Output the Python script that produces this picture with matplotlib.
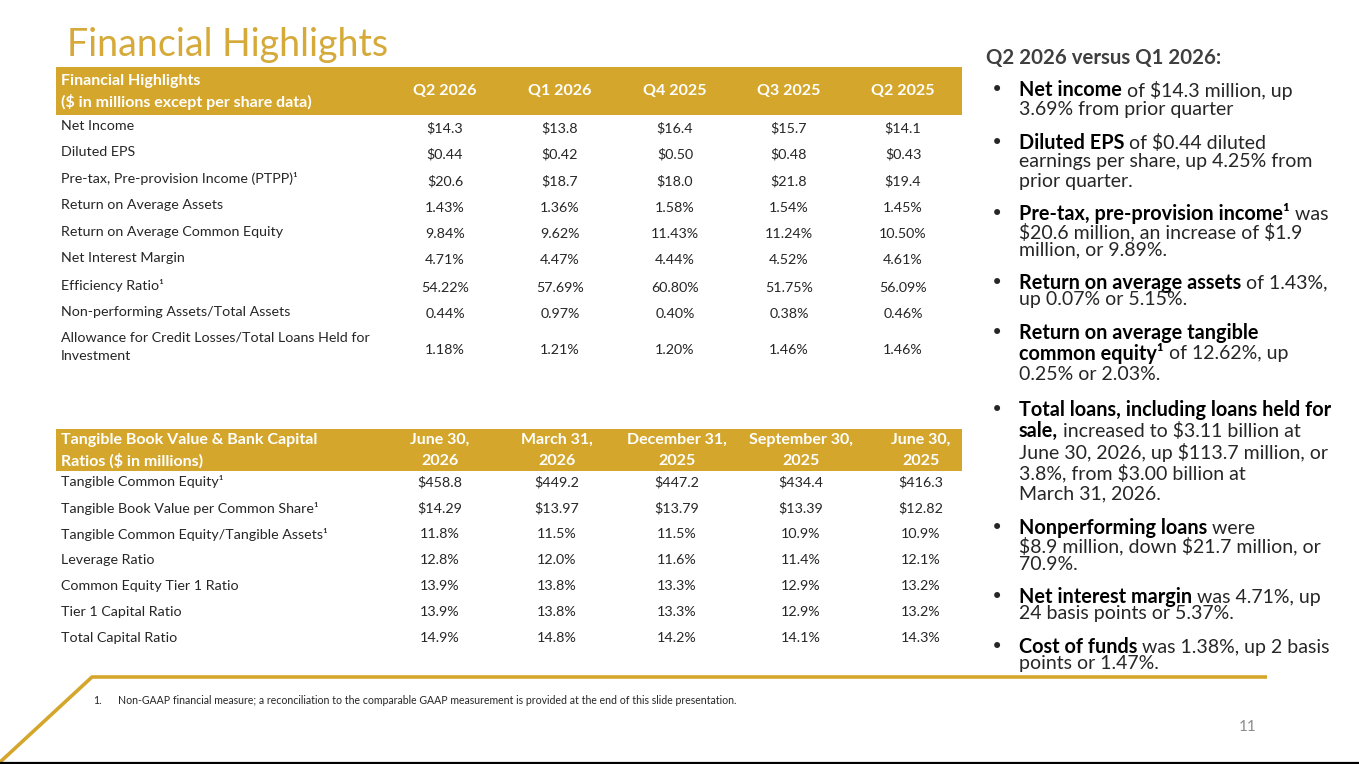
import matplotlib
matplotlib.use("Agg")
import matplotlib.pyplot as plt
from matplotlib.patches import Rectangle

plt.rcParams["text.parse_math"] = False

W, H = 1359, 764
GOLD = "#D4A72C"
TITLE_GOLD = "#D6AA3A"
DARK = "#262626"
GREY_HEAD = "#3F3F3F"
FONT = "Lato"

# ---- table 1: financial highlights ----
QUARTERS = ["Q2 2026", "Q1 2026", "Q4 2025", "Q3 2025", "Q2 2025"]
FH_ROWS = [
    "Net Income",
    "Diluted EPS",
    "Pre-tax, Pre-provision Income (PTPP)\u00b9",
    "Return on Average Assets",
    "Return on Average Common Equity",
    "Net Interest Margin",
    "Efficiency Ratio\u00b9",
    "Non-performing Assets/Total Assets",
    "Allowance for Credit Losses/Total Loans Held for\nInvestment",
]
net_income = ["$14.3", "$13.8", "$16.4", "$15.7", "$14.1"]
diluted_eps = ["$0.44", "$0.42", "$0.50", "$0.48", "$0.43"]
ptpp = ["$20.6", "$18.7", "$18.0", "$21.8", "$19.4"]
roaa = ["1.43%", "1.36%", "1.58%", "1.54%", "1.45%"]
roace = ["9.84%", "9.62%", "11.43%", "11.24%", "10.50%"]
nim = ["4.71%", "4.47%", "4.44%", "4.52%", "4.61%"]
efficiency = ["54.22%", "57.69%", "60.80%", "51.75%", "56.09%"]
npa_ta = ["0.44%", "0.97%", "0.40%", "0.38%", "0.46%"]
acl_loans = ["1.18%", "1.21%", "1.20%", "1.46%", "1.46%"]
FH_VALUES = [net_income, diluted_eps, ptpp, roaa, roace, nim, efficiency, npa_ta, acl_loans]

# ---- table 2: tangible book value & capital ----
DATES = ["June 30,\n2026", "March 31,\n2026", "December 31,\n2025",
         "September 30,\n2025", "June 30,\n2025"]
TBV_ROWS = [
    "Tangible Common Equity\u00b9",
    "Tangible Book Value per Common Share\u00b9",
    "Tangible Common Equity/Tangible Assets\u00b9",
    "Leverage Ratio",
    "Common Equity Tier 1 Ratio",
    "Tier 1 Capital Ratio",
    "Total Capital Ratio",
]
tce = ["$458.8", "$449.2", "$447.2", "$434.4", "$416.3"]
tbv_share = ["$14.29", "$13.97", "$13.79", "$13.39", "$12.82"]
tce_ta = ["11.8%", "11.5%", "11.5%", "10.9%", "10.9%"]
leverage = ["12.8%", "12.0%", "11.6%", "11.4%", "12.1%"]
cet1 = ["13.9%", "13.8%", "13.3%", "12.9%", "13.2%"]
tier1 = ["13.9%", "13.8%", "13.3%", "12.9%", "13.2%"]
total_cap = ["14.9%", "14.8%", "14.2%", "14.1%", "14.3%"]
TBV_VALUES = [tce, tbv_share, tce_ta, leverage, cet1, tier1, total_cap]

# ---- commentary on the right: (bold part, regular part) per line ----
BULLETS = [
    [("Net income", " of $14.3 million, up"), ("", "3.69% from prior quarter")],
    [("Diluted EPS", " of $0.44 diluted"), ("", "earnings per share, up 4.25% from"),
     ("", "prior quarter.")],
    [("Pre-tax, pre-provision income\u00b9", " was"), ("", "$20.6 million, an increase of $1.9"),
     ("", "million, or 9.89%.")],
    [("Return on average assets", " of 1.43%,"), ("", "up 0.07% or 5.15%.")],
    [("Return on average tangible", ""), ("common equity\u00b9", " of 12.62%, up"),
     ("", "0.25% or 2.03%.")],
    [("Total loans, including loans held for", ""), ("sale,", " increased to $3.11 billion at"),
     ("", "June 30, 2026, up $113.7 million, or"), ("", "3.8%, from $3.00 billion at"),
     ("", "March 31, 2026.")],
    [("Nonperforming loans", " were"), ("", "$8.9 million, down $21.7 million, or"),
     ("", "70.9%.")],
    [("Net interest margin", " was 4.71%, up"), ("", "24 basis points or 5.37%.")],
    [("Cost of funds", " was 1.38%, up 2 basis"), ("", "points or 1.47%.")],
]
BULLET_TOP = [90, 143, 214, 283, 333, 410, 528, 597, 647]
BULLET_STEP = [19, 19, 18, 17, 21, 21, 18, 17, 17]

FOOTNOTE = ("Non-GAAP financial measure; a reconciliation to the comparable GAAP "
            "measurement is provided at the end of this slide presentation.")


def draw_table(ax, top, bottom, header_lines, col_heads, col_x, row_labels, row_y, values,
               head_y, col_head_y, value_dy=2.5):
    ax.add_patch(Rectangle((56, top), 906, bottom - top, color=GOLD, lw=0))
    for line, y in zip(header_lines, head_y):
        ax.text(61, y, line, color="white", fontsize=11.5, weight="bold",
                family=FONT, va="center")
    for cx, head in zip(col_x, col_heads):
        for line, y in zip(head.split("\n"), col_head_y):
            ax.text(cx, y, line, color="white", fontsize=11.5, weight="bold",
                    family=FONT, ha="center", va="center")
    for label, y, vals in zip(row_labels, row_y, values):
        parts = label.split("\n")
        ly = y - 9.5 * (len(parts) - 1)
        for i, part in enumerate(parts):
            ax.text(61, ly + 19 * i, part, color=DARK, fontsize=10.3, family=FONT,
                    va="center")
        for cx, v in zip(col_x, vals):
            ax.text(cx, y + value_dy, v, color=DARK, fontsize=10.3, family=FONT,
                    ha="center", va="center")


def draw_bullets(ax, renderer):
    ax.text(986, 58, "Q2 2026 versus Q1 2026:", color=GREY_HEAD, fontsize=14.7,
            weight="bold", family=FONT, va="center")
    for lines, y0, step in zip(BULLETS, BULLET_TOP, BULLET_STEP):
        ax.text(997, y0, "\u2022", color=DARK, fontsize=15, family="DejaVu Sans",
                ha="center", va="center")
        for i, (bold, regular) in enumerate(lines):
            y = y0 + i * step
            x = 1019
            if bold:
                t = ax.text(x, y, bold, color="black", fontsize=14.3, weight="bold",
                            family=FONT, va="center")
                x += t.get_window_extent(renderer).width
            if regular:
                ax.text(x, y, regular, color=DARK, fontsize=14, family=FONT, va="center")


def main():
    fig = plt.figure(figsize=(W / 100, H / 100), dpi=100)
    ax = fig.add_axes([0, 0, 1, 1])
    ax.set_xlim(0, W)
    ax.set_ylim(H, 0)
    ax.axis("off")
    renderer = fig.canvas.get_renderer()

    ax.text(67, 45, "Financial Highlights", color=TITLE_GOLD, fontsize=27, family=FONT,
            va="center")

    fh_y = [125.5, 152, 178.5, 205, 231.5, 258, 285, 311.5, 347]
    draw_table(ax, 67, 115, ["Financial Highlights", "($ in millions except per share data)"],
               QUARTERS, [445, 560, 675, 789, 903], FH_ROWS, fh_y, FH_VALUES, [81, 102], [91])

    tbv_y = [482, 508.5, 534.5, 560, 585.5, 611.5, 638]
    draw_table(ax, 429, 471, ["Tangible Book Value & Bank Capital", "Ratios ($ in millions)"],
               DATES, [440, 557, 677, 801, 921], TBV_ROWS, tbv_y, TBV_VALUES, [440, 461],
               [440, 461], value_dy=0)

    draw_bullets(ax, renderer)

    # slide decoration: gold rule with a slanted lead-in, black base line
    ax.plot([-2, 92, 1267], [764, 677, 677], color=GOLD, lw=2.6, solid_capstyle="butt")
    ax.plot([0, W], [762.5, 762.5], color="black", lw=1.6)

    ax.text(93, 701, "1.", color=DARK, fontsize=7.6, family=FONT, va="center")
    ax.text(118, 701, FOOTNOTE, color=DARK, fontsize=7.6, family=FONT, va="center")
    ax.text(1248, 727, "11", color="#8C8C8C", fontsize=11, family=FONT, ha="center",
            va="center")

    fig.savefig("out.png", dpi=100)
    plt.close(fig)


if __name__ == "__main__":
    main()
